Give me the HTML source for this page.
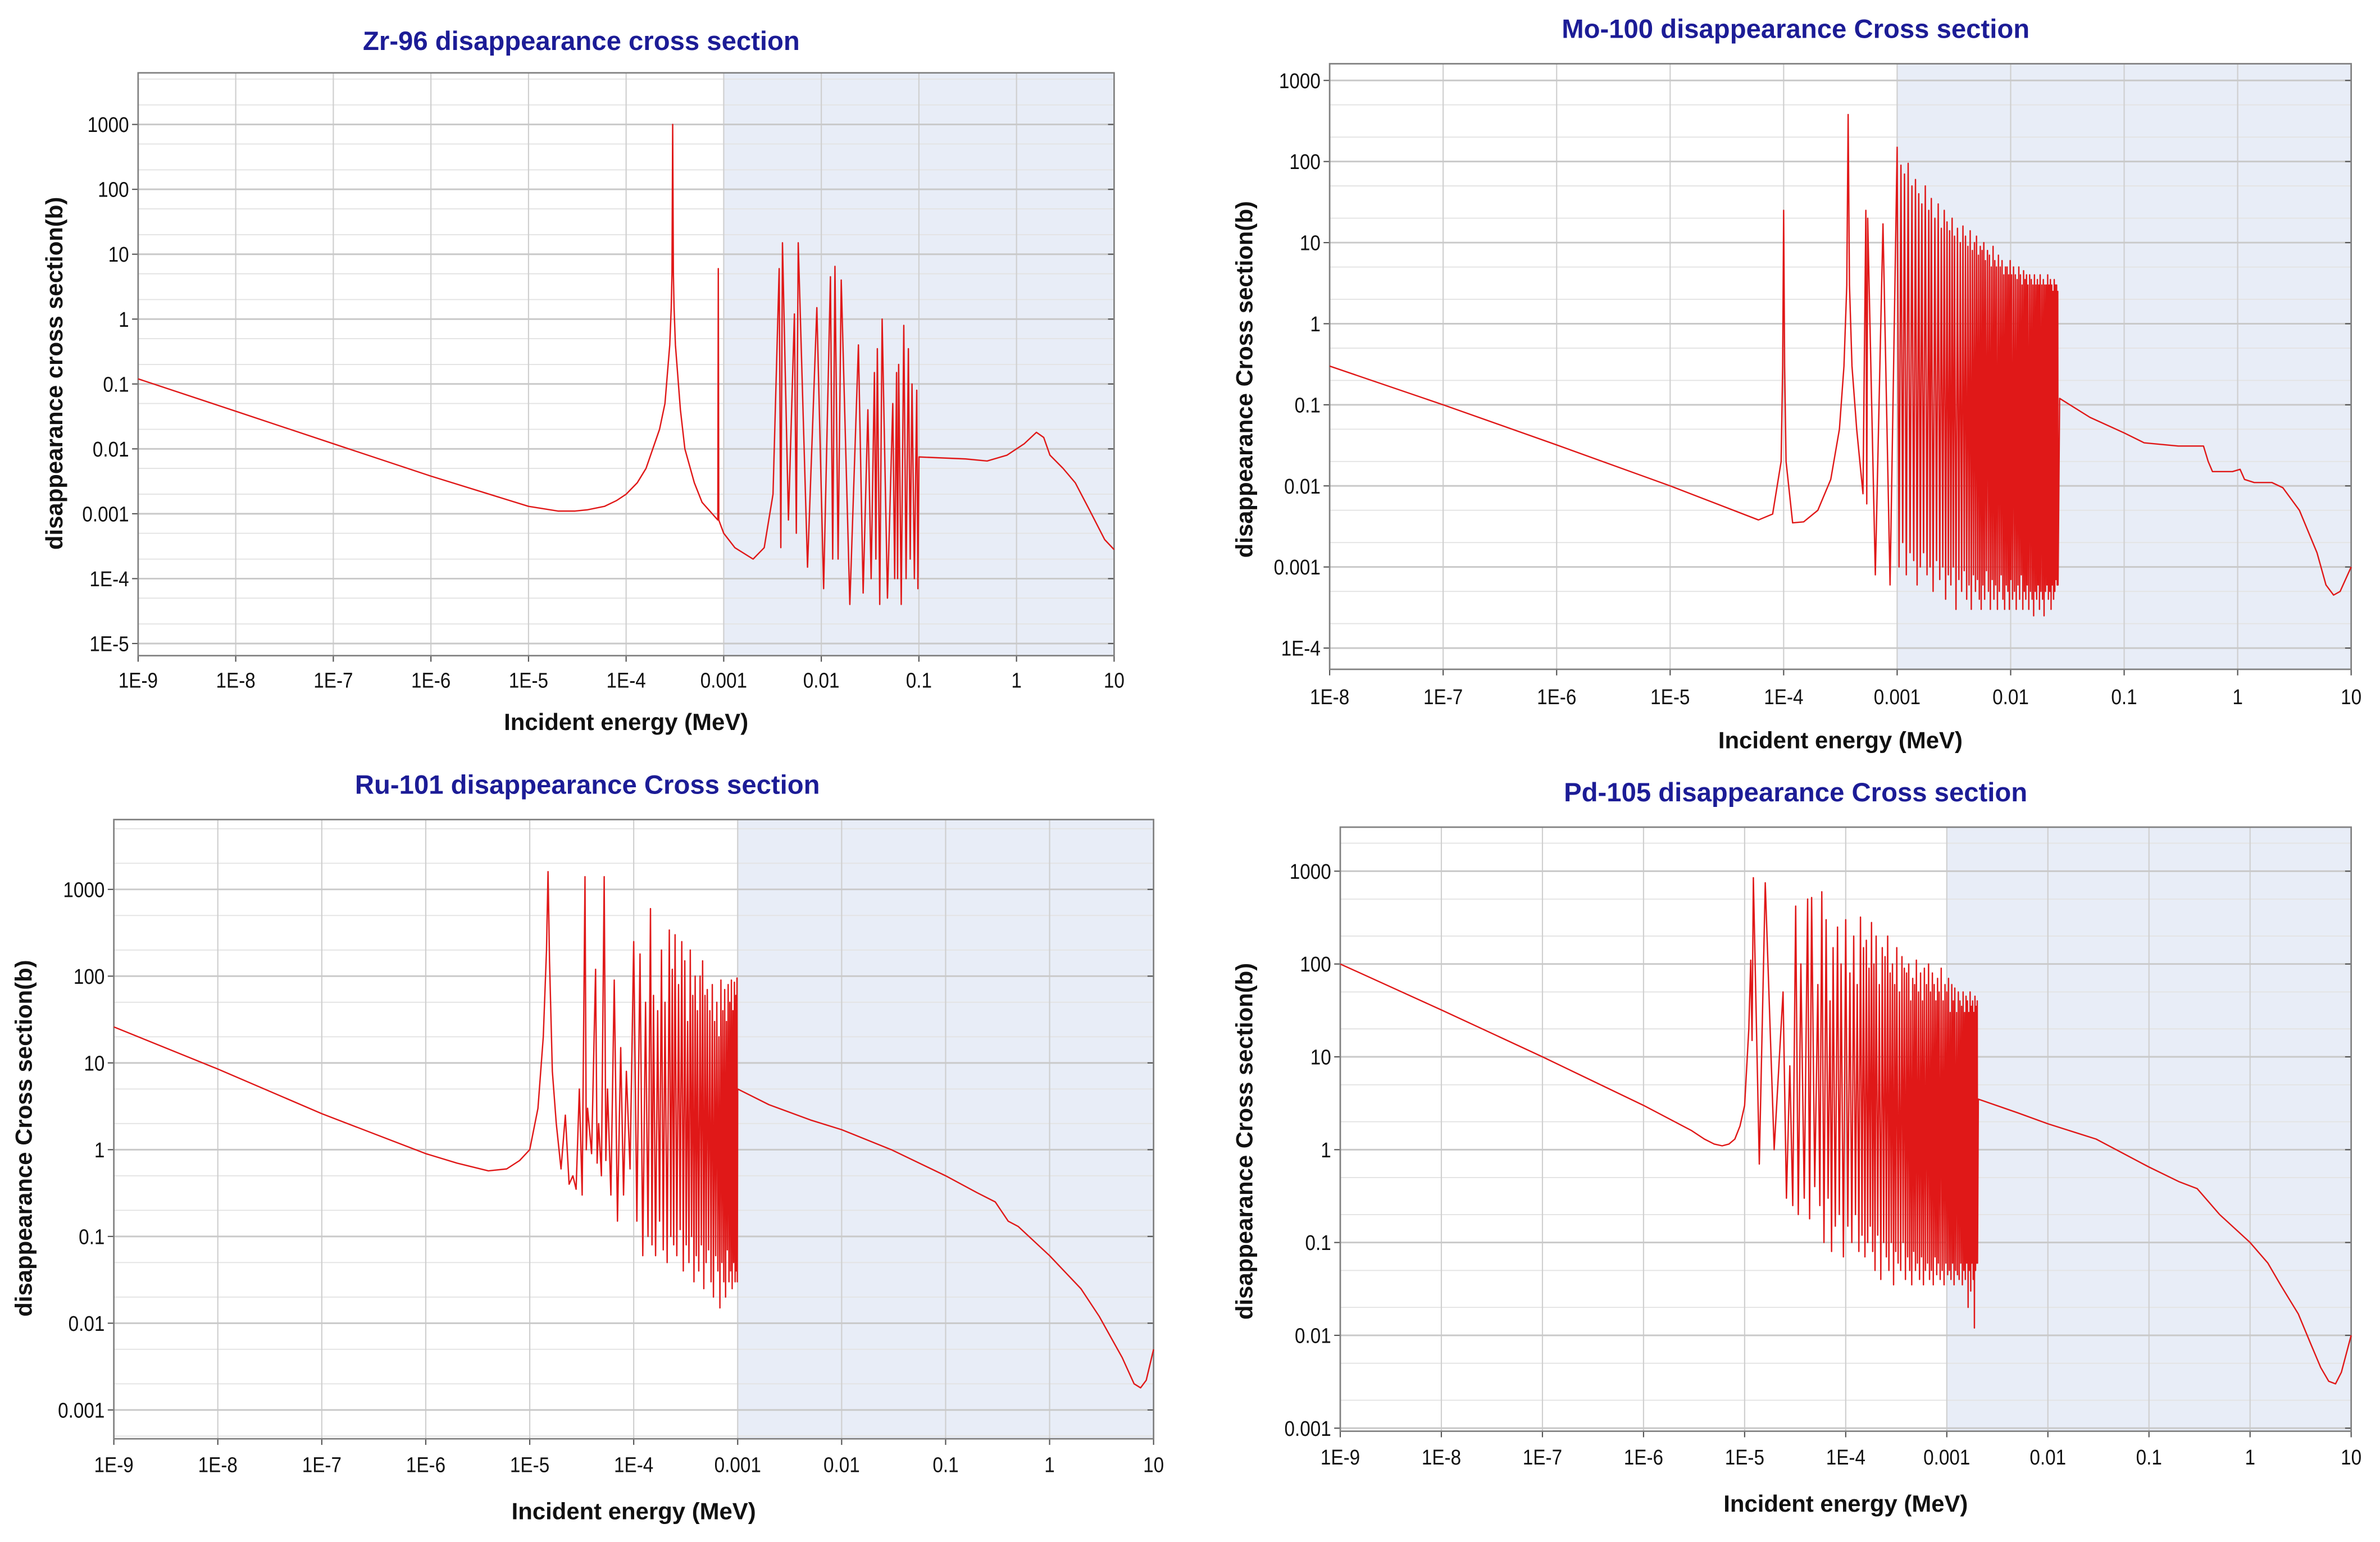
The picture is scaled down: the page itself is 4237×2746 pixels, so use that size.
<!DOCTYPE html>
<html><head><meta charset="utf-8">
<style>
html,body{margin:0;padding:0;background:#fff;}
svg{display:block;}
text{font-family:"Liberation Sans",Arial,sans-serif;}
.tt{font-weight:bold;fill:#1c1c96;font-size:17.5px;}
.tk{font-size:14px;fill:#111;}
.at{font-weight:bold;font-size:15.5px;fill:#111;}
</style></head>
<body>
<svg id="fig" width="4237" height="2746" viewBox="0 0 1568 1016" preserveAspectRatio="none" xmlns="http://www.w3.org/2000/svg"></svg>
<script>
// ---------- Zr-96 ----------
const zrPreE=[1e-9,1e-8,1e-7,1e-6,1e-5,2e-5,3e-5,4e-5,6e-5,8e-5,1e-4,1.3e-4,1.6e-4,2.2e-4,2.5e-4,2.8e-4,2.9e-4,2.95e-4,3.0e-4,3.05e-4,3.1e-4,3.2e-4,3.6e-4,4e-4,5e-4,6e-4,8.7e-4,8.8e-4,8.9e-4,1e-3,1.3e-3,2e-3,2.6e-3,3.2e-3];
const zrPreS=[0.12,0.038,0.012,0.0038,0.0013,0.0011,0.0011,0.00115,0.0013,0.0016,0.002,0.003,0.005,0.02,0.05,0.4,1.5,5,1000,5,1.5,0.4,0.04,0.01,0.003,0.0015,0.0008,6,0.0008,0.0005,0.0003,0.0002,0.0003,0.002];
const zrResE=[0.0037,0.0040,0.0053,0.0058,0.0090,0.0124,0.0138,0.0160,0.0240,0.0300,0.0350,0.0375,0.0420,0.0540,0.0590,0.0620,0.0700,0.0780,0.0850,0.0950];
const zrResPeak=[6,15,1.2,15,1.5,4.5,6.5,4,0.4,0.04,0.15,0.35,1,0.05,0.15,0.2,0.8,0.35,0.1,0.08];
const zrResValley=[0.0003,0.0008,0.0005,0.00015,0.00007,0.0002,0.0002,0.00004,0.00006,0.0001,0.0002,0.00004,0.00005,0.0001,0.0001,0.00004,0.0001,0.0002,0.0001,0.00007];
const zrPostE=[0.1001,0.3,0.5,0.8,1.2,1.6,1.9,2.2,3,4,5.5,8,10];
const zrPostS=[0.0075,0.007,0.0065,0.008,0.012,0.018,0.015,0.008,0.005,0.003,0.0012,0.0004,0.00028];
// ---------- Mo-100 ----------
const moPreE=[1e-8,1e-7,1e-6,1e-5,6e-5,8e-5,9.5e-5,9.8e-5,1e-4,1.02e-4,1.05e-4,1.2e-4,1.5e-4,2e-4,2.6e-4,3.1e-4,3.4e-4,3.6e-4,3.7e-4,3.8e-4,4.0e-4,4.4e-4,5e-4];
const moPreS=[0.3,0.1,0.032,0.01,0.0038,0.0045,0.02,0.3,25,0.3,0.02,0.0035,0.0036,0.005,0.012,0.05,0.3,3,380,3,0.3,0.05,0.008];
const moResE=[5.3e-4,5.5e-4,7.5e-4,1.0e-3,1.08e-3,1.16e-3,1.25e-3,1.35e-3,1.45e-3,1.55e-3,1.65e-3,1.77e-3,1.9e-3,2.0e-3,2.15e-3,2.3e-3,2.45e-3,2.6e-3,2.75e-3,2.9e-3,3.05e-3,3.2e-3,3.4e-3,3.6e-3,3.8e-3,4.0e-3,4.2e-3,4.4e-3,4.6e-3,4.8e-3,5.0e-3,5.2e-3,5.4e-3,5.6e-3,5.8e-3,6.0e-3,6.25e-3,6.5e-3,6.75e-3,7.0e-3,7.25e-3,7.5e-3,7.8e-3,8.1e-3,8.4e-3,8.7e-3,9.0e-3,9.3e-3,9.6e-3,9.9e-3,0.0102,0.0106,0.011,0.0114,0.0118,0.0122,0.0126,0.013,0.0134,0.0138,0.0142,0.0147,0.0152,0.0157,0.0162,0.0167,0.0172,0.0177,0.0182,0.0188,0.0194,0.02,0.0206,0.0212,0.0218,0.0224,0.023,0.0236,0.0242,0.0248,0.0254,0.026];
const moResPeak=[25,20,17,150,90,70,95,50,60,40,30,50,25,35,20,30,15,25,18,14,20,12,15,10,16,12,9,14,8,10,12,7,9,8,10,6,8,7,5,9,6,5,7,5,6,4,5,5,4,6,4,5,4,3.5,5,4,3,4.5,3.5,4,3,4,3.5,3,4,3,3.5,3,4,3,3.5,3,3,4,3,3.5,3,2.5,3.5,3,3,2.5];
const moResValley=[0.006,0.0008,0.0006,0.001,0.002,0.0008,0.0015,0.0012,0.0006,0.001,0.0015,0.0008,0.001,0.0005,0.0012,0.0007,0.001,0.0004,0.0008,0.0006,0.001,0.0003,0.0007,0.0005,0.0009,0.0004,0.0006,0.0003,0.0008,0.0005,0.0007,0.0004,0.0003,0.0006,0.0004,0.0009,0.0005,0.0003,0.0007,0.0004,0.0006,0.0003,0.0005,0.0008,0.0004,0.0003,0.0006,0.0005,0.0003,0.0007,0.0004,0.0005,0.0003,0.0006,0.0004,0.0008,0.0003,0.0005,0.0004,0.0006,0.0003,0.0005,0.0004,0.00025,0.0005,0.0004,0.0006,0.0003,0.0005,0.0004,0.00025,0.0005,0.0006,0.0004,0.0005,0.0003,0.0006,0.0004,0.0005,0.0007,0.0006,0.0006];
const moPostE=[0.027,0.05,0.1,0.15,0.3,0.5,0.55,0.6,0.9,1.05,1.15,1.4,2,2.5,3.5,5,6,7,8,10];
const moPostS=[0.12,0.07,0.045,0.034,0.031,0.031,0.02,0.015,0.015,0.016,0.012,0.011,0.011,0.0095,0.005,0.0015,0.0006,0.00045,0.0005,0.001];
// ---------- Ru-101 ----------
const ruPreE=[1e-9,1e-8,1e-7,1e-6,2e-6,4e-6,6e-6,8e-6,1e-5,1.2e-5,1.35e-5,1.45e-5,1.5e-5,1.55e-5,1.65e-5,1.8e-5,2e-5];
const ruPreS=[26,8.5,2.6,0.9,0.7,0.57,0.6,0.75,1,3,20,200,1600,150,8,2,0.6];
const ruResE=[2.2e-5,2.6e-5,3e-5,3.4e-5,3.6e-5,4.3e-5,4.6e-5,5.2e-5,5.6e-5,6.5e-5,7.5e-5,8.5e-5,1.0e-4,1.15e-4,1.3e-4,1.45e-4,1.55e-4,1.7e-4,1.85e-4,2.0e-4,2.2e-4,2.35e-4,2.5e-4,2.7e-4,2.9e-4,3.1e-4,3.3e-4,3.5e-4,3.7e-4,3.9e-4,4.1e-4,4.35e-4,4.6e-4,4.85e-4,5.1e-4,5.4e-4,5.7e-4,6e-4,6.3e-4,6.6e-4,6.9e-4,7.2e-4,7.5e-4,7.8e-4,8.1e-4,8.4e-4,8.7e-4,9e-4,9.3e-4,9.6e-4,9.85e-4];
const ruResPeak=[2.5,0.5,5,1400,3,120,2,1400,5,90,15,8,250,180,50,600,60,40,200,50,340,120,300,80,250,150,30,200,60,100,40,100,150,60,70,40,80,30,50,20,90,40,70,30,80,50,90,40,85,60,95];
const ruResValley=[0.4,0.35,0.3,1,0.9,0.7,0.5,0.75,0.3,0.15,0.3,0.6,0.15,0.06,0.1,0.08,0.06,0.15,0.07,0.05,0.1,0.08,0.06,0.12,0.04,0.08,0.05,0.1,0.03,0.06,0.04,0.08,0.025,0.05,0.07,0.03,0.02,0.06,0.04,0.015,0.05,0.03,0.02,0.07,0.03,0.04,0.025,0.05,0.03,0.04,0.03];
const ruPostE=[0.001,0.002,0.005,0.01,0.03,0.1,0.2,0.3,0.4,0.5,1,2,3,5,6.5,7.5,8.5,10];
const ruPostS=[5,3.3,2.2,1.7,1.0,0.5,0.32,0.25,0.15,0.13,0.06,0.025,0.012,0.004,0.002,0.0018,0.0022,0.005];
// ---------- Pd-105 ----------
const pdPreE=[1e-9,1e-8,1e-7,1e-6,3e-6,4e-6,5e-6,6e-6,7e-6,8e-6,9e-6,1e-5,1.1e-5];
const pdPreS=[100,32,10,3,1.6,1.3,1.15,1.1,1.15,1.3,1.8,3,20];
const pdResE=[1.15e-5,1.22e-5,1.6e-5,2.4e-5,2.8e-5,3.2e-5,3.6e-5,4.2e-5,4.6e-5,5.3e-5,5.8e-5,6.4e-5,7e-5,7.5e-5,8.3e-5,9e-5,1.0e-4,1.1e-4,1.2e-4,1.3e-4,1.4e-4,1.5e-4,1.6e-4,1.7e-4,1.8e-4,1.9e-4,2.0e-4,2.15e-4,2.3e-4,2.45e-4,2.6e-4,2.75e-4,2.9e-4,3.05e-4,3.2e-4,3.4e-4,3.6e-4,3.8e-4,4.0e-4,4.2e-4,4.4e-4,4.6e-4,4.8e-4,5.0e-4,5.25e-4,5.5e-4,5.75e-4,6.0e-4,6.3e-4,6.6e-4,6.9e-4,7.2e-4,7.5e-4,7.8e-4,8.1e-4,8.4e-4,8.8e-4,9.2e-4,9.6e-4,1.0e-3,1.04e-3,1.08e-3,1.12e-3,1.16e-3,1.2e-3,1.25e-3,1.3e-3,1.35e-3,1.4e-3,1.45e-3,1.5e-3,1.55e-3,1.6e-3,1.65e-3,1.7e-3,1.75e-3,1.8e-3,1.85e-3,1.9e-3,1.95e-3,2.0e-3];
const pdResPeak=[110,850,750,50,8,420,100,500,520,60,600,300,40,150,250,100,300,80,200,60,320,150,180,90,280,100,200,60,150,120,200,80,100,60,150,50,120,90,80,100,40,70,60,110,50,80,40,90,60,100,50,80,60,40,70,50,90,40,60,50,70,30,60,40,55,30,50,40,35,50,30,45,40,30,50,35,40,30,45,35,40];
const pdResValley=[15,0.7,1,0.3,0.25,0.2,0.3,0.18,0.4,0.25,0.1,0.3,0.08,0.15,0.2,0.07,0.15,0.1,0.2,0.08,0.12,0.07,0.1,0.15,0.08,0.05,0.12,0.04,0.1,0.07,0.05,0.1,0.035,0.08,0.06,0.05,0.1,0.04,0.07,0.05,0.035,0.08,0.05,0.06,0.04,0.07,0.035,0.05,0.06,0.04,0.05,0.035,0.07,0.045,0.06,0.04,0.05,0.035,0.06,0.045,0.05,0.04,0.06,0.035,0.05,0.045,0.04,0.06,0.035,0.05,0.04,0.06,0.02,0.05,0.03,0.06,0.04,0.012,0.05,0.06,0.06];
const pdPostE=[0.00205,0.005,0.01,0.03,0.1,0.2,0.3,0.5,1,1.5,2,3,4,5,6,7,8,10];
const pdPostS=[3.5,2.5,1.9,1.3,0.65,0.45,0.38,0.2,0.1,0.06,0.035,0.017,0.008,0.0045,0.0032,0.003,0.004,0.01];
// tick labels
const xTicks9=["1E-9","1E-8","1E-7","1E-6","1E-5","1E-4","0.001","0.01","0.1","1","10"];
const xTicks8=["1E-8","1E-7","1E-6","1E-5","1E-4","0.001","0.01","0.1","1","10"];
const yTicksZr=["1E-5","1E-4","0.001","0.01","0.1","1","10","100","1000"];
const yTicksMo=["1E-4","0.001","0.01","0.1","1","10","100","1000"];
const yTicksRuPd=["0.001","0.01","0.1","1","10","100","1000"];

const NS="http://www.w3.org/2000/svg";
const fig=document.getElementById('fig');
function mk(tag,attrs,parent){const e=document.createElementNS(NS,tag);for(const k in attrs)e.setAttribute(k,attrs[k]);(parent||fig).appendChild(e);return e;}

const panels=[
 {id:'zr',title:'Zr-96 disappearance cross section',ytitle:'disappearance cross section(b)',tcx:383,ty:33,
  L:91,R:734,T:48,B:432,xmin:-9,xmax:1,ylo:-5,yloPix:424,yhi:3,yhiPix:82,xt:xTicks9,yt:yTicksZr,
  xtY:453,xlY:481,ytX:41,ytY:246,
  pre:[zrPreE,zrPreS],res:[zrResE,zrResPeak,zrResValley],post:[zrPostE,zrPostS]},
 {id:'mo',title:'Mo-100 disappearance Cross section',ytitle:'disappearance Cross section(b)',tcx:1183,ty:25,
  L:876,R:1549,T:42,B:441,xmin:-8,xmax:1,ylo:-4,yloPix:427,yhi:3,yhiPix:53,xt:xTicks8,yt:yTicksMo,
  xtY:464,xlY:493,ytX:825,ytY:250,
  pre:[moPreE,moPreS],res:[moResE,moResPeak,moResValley],post:[moPostE,moPostS]},
 {id:'ru',title:'Ru-101 disappearance Cross section',ytitle:'disappearance Cross section(b)',tcx:387,ty:523,
  L:75,R:760,T:540,B:948,xmin:-9,xmax:1,ylo:-3,yloPix:929,yhi:3,yhiPix:586,xt:xTicks9,yt:yTicksRuPd,
  xtY:970,xlY:1001,ytX:21,ytY:750,
  pre:[ruPreE,ruPreS],res:[ruResE,ruResPeak,ruResValley],post:[ruPostE,ruPostS]},
 {id:'pd',title:'Pd-105 disappearance Cross section',ytitle:'disappearance Cross section(b)',tcx:1183,ty:528,
  L:883,R:1549,T:545,B:943,xmin:-9,xmax:1,ylo:-3,yloPix:941,yhi:3,yhiPix:574,xt:xTicks9,yt:yTicksRuPd,
  xtY:965,xlY:996,ytX:825,ytY:752,
  pre:[pdPreE,pdPreS],res:[pdResE,pdResPeak,pdResValley],post:[pdPostE,pdPostS]}
];

panels.forEach(p=>{
  const g=mk('g',{});
  
  
  const xs=e=>p.L+(Math.log10(e)-p.xmin)/(p.xmax-p.xmin)*(p.R-p.L);
  const ys=v=>p.yloPix+(Math.log10(v)-p.ylo)/(p.yhi-p.ylo)*(p.yhiPix-p.yloPix);
  const t=mk('text',{x:p.tcx,y:p.ty,'text-anchor':'middle',class:'tt'},g);t.textContent=p.title;
  
  mk('rect',{x:p.L,y:p.T,width:p.R-p.L,height:p.B-p.T,fill:'#fff'},g);
  const sx=xs(0.001);
  const sh=mk('rect',{x:sx,y:p.T,width:p.R-sx,height:p.B-p.T,fill:'#e8edf7'},g);
  
  for(let d=p.ylo-1;d<=p.yhi+1;d++){
    [2,5].forEach(m=>{const v=m*Math.pow(10,d);const y=ys(v);if(y>p.T+1&&y<p.B-1)mk('line',{x1:p.L,x2:p.R,y1:y,y2:y,stroke:'#e3e3e3','stroke-width':0.7},g);});
  }
  for(let d=p.xmin;d<=p.xmax;d++){const x=xs(Math.pow(10,d));
    mk('line',{x1:x,x2:x,y1:p.T,y2:p.B,stroke:'#cfcfcf','stroke-width':0.8},g);
    mk('line',{x1:x,x2:x,y1:p.B,y2:p.B+4,stroke:'#555','stroke-width':0.8},g);}
  for(let d=p.ylo;d<=p.yhi;d++){const y=ys(Math.pow(10,d));
    mk('line',{x1:p.L,x2:p.R,y1:y,y2:y,stroke:'#c9c9c9','stroke-width':1.1},g);
    mk('line',{x1:p.L-4,x2:p.L,y1:y,y2:y,stroke:'#555','stroke-width':0.8},g);
    mk('line',{x1:p.R-4,x2:p.R,y1:y,y2:y,stroke:'#555','stroke-width':0.8},g);}
  const fr=mk('rect',{x:p.L,y:p.T,width:p.R-p.L,height:p.B-p.T,fill:'none',stroke:'#808080','stroke-width':1},g);
  
  p.xt.forEach((lab,i)=>{const x=xs(Math.pow(10,p.xmin+i));
    const tx=mk('text',{x:0,y:0,'text-anchor':'middle',class:'tk',transform:`translate(${x},${p.xtY}) scale(0.88,1)`},g);tx.textContent=lab;
    });
  p.yt.forEach((lab,i)=>{const y=ys(Math.pow(10,p.ylo+i))+5;
    const ty=mk('text',{x:0,y:0,'text-anchor':'end',class:'tk',transform:`translate(${p.L-6},${y}) scale(0.88,1)`},g);ty.textContent=lab;
    });
  const xl=mk('text',{x:(p.L+p.R)/2,y:p.xlY,'text-anchor':'middle',class:'at'},g);xl.textContent='Incident energy (MeV)';
  
  const yl=mk('text',{x:0,y:0,'text-anchor':'middle',class:'at',transform:`translate(${p.ytX},${p.ytY}) rotate(-90)`},g);yl.textContent=p.ytitle;
  
  const pts=[];
  const [pe,ps]=p.pre; for(let i=0;i<Math.min(pe.length,ps.length);i++)pts.push([pe[i],ps[i]]);
  const [re,rp,rv]=p.res; const n=Math.min(re.length,rp.length,rv.length);
  for(let i=0;i<n;i++){pts.push([re[i],rp[i]]);
    const nxt=i<n-1?re[i+1]:re[i]*Math.sqrt(re[i]/re[i-1]);
    pts.push([Math.sqrt(re[i]*nxt),rv[i]]);}
  const [qe,qs]=p.post; for(let i=0;i<Math.min(qe.length,qs.length);i++)pts.push([qe[i],qs[i]]);
  const d=pts.map((q,i)=>(i?'L':'M')+xs(q[0]).toFixed(2)+','+ys(q[1]).toFixed(2)).join(' ');
  const path=mk('path',{d:d,fill:'none',stroke:'#e01818','stroke-width':0.9,'stroke-linejoin':'round'},g);
  
  
});
</script>
</body></html>
